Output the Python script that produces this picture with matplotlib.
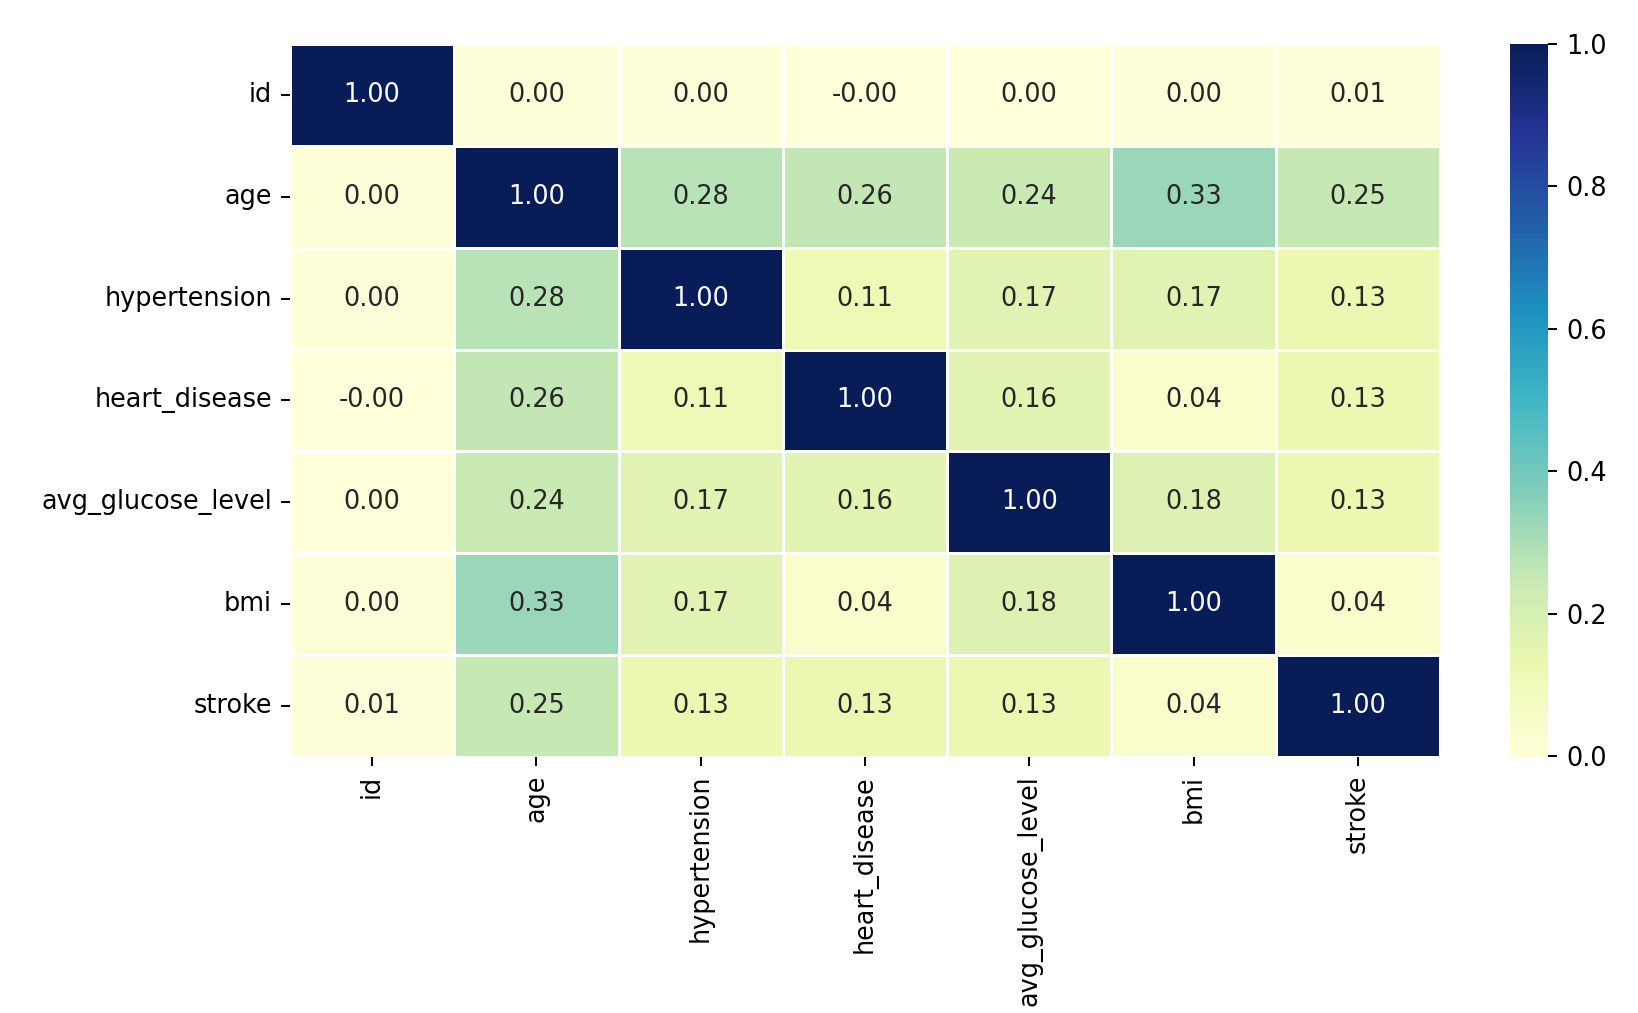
import matplotlib
matplotlib.use("Agg")
import matplotlib.pyplot as plt
import seaborn as sns
import numpy as np
import pandas as pd

# Correlation values
columns = ["id", "age", "hypertension", "heart_disease", "avg_glucose_level", "bmi", "stroke"]
row_id = [1.00, 0.003, 0.004, -0.001, 0.001, 0.003, 0.006]
row_age = [0.003, 1.00, 0.28, 0.26, 0.24, 0.33, 0.25]
row_hypertension = [0.004, 0.28, 1.00, 0.11, 0.17, 0.17, 0.13]
row_heart_disease = [-0.001, 0.26, 0.11, 1.00, 0.16, 0.04, 0.13]
row_glucose = [0.001, 0.24, 0.17, 0.16, 1.00, 0.18, 0.13]
row_bmi = [0.003, 0.33, 0.17, 0.04, 0.18, 1.00, 0.04]
row_stroke = [0.006, 0.25, 0.13, 0.13, 0.13, 0.04, 1.00]

corr = pd.DataFrame([row_id, row_age, row_hypertension, row_heart_disease,
                     row_glucose, row_bmi, row_stroke],
                    index=columns, columns=columns)

dpi = 184
fig = plt.figure(figsize=(1638 / dpi, 1013 / dpi), dpi=dpi)
ax = fig.add_axes([0.1770, 0.2527, 0.7021, 0.7039])
cax = fig.add_axes([0.9219, 0.2527, 0.0232, 0.7039])

sns.heatmap(corr, annot=True, fmt=".2f", cmap="YlGnBu", linewidths=0.5,
            linecolor="white", ax=ax, cbar_ax=cax)

plt.savefig("out.png", dpi=dpi)
